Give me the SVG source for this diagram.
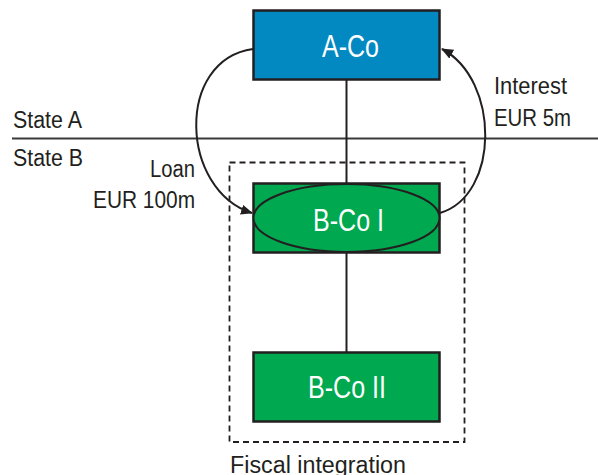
<svg xmlns="http://www.w3.org/2000/svg" width="598" height="475" viewBox="0 0 598 475">
<style>
.lbl{font-family:"Liberation Sans Narrow","Liberation Sans",Arial,sans-serif;fill:#231f20;font-size:23px}
.wt{font-family:"Liberation Sans Narrow","Liberation Sans",Arial,sans-serif;fill:#ffffff;font-size:31px}
.box{stroke:#231f20;stroke-width:2.5}
.conn{fill:none;stroke:#231f20;stroke-width:2}
</style>
<defs>
<marker id="ah" viewBox="0 0 12 10" refX="11" refY="5" markerWidth="12" markerHeight="10" markerUnits="userSpaceOnUse" orient="auto">
<path d="M0,0 L12,5 L0,10 Z" fill="#231f20"/>
</marker>
</defs>
<g id="state-line">
<line x1="12" y1="138.5" x2="598" y2="138.5" stroke="#3a3a3a" stroke-width="1.8"/>
<text class="lbl" x="13" y="127.5" textLength="69" lengthAdjust="spacingAndGlyphs">State A</text>
<text class="lbl" x="13" y="165.5" textLength="70" lengthAdjust="spacingAndGlyphs">State B</text>
</g>
<g id="fiscal-integration">
<rect x="229.5" y="162.5" width="235" height="279.5" fill="none" stroke="#231f20" stroke-width="1.8" stroke-dasharray="6,4"/>
<text class="lbl" x="230" y="472.5" font-size="24" textLength="176" lengthAdjust="spacingAndGlyphs">Fiscal integration</text>
</g>
<g id="connectors">
<line class="conn" x1="346.5" y1="80" x2="346.5" y2="183"/>
<line class="conn" x1="346.5" y1="253" x2="346.5" y2="352"/>
<path class="conn" d="M253,49 C175,60 180,190 252,213" marker-end="url(#ah)"/>
<path class="conn" d="M440,213 C500,195 500,80 442,49" marker-end="url(#ah)"/>
<text class="lbl" x="195" y="176.5" text-anchor="end" textLength="45" lengthAdjust="spacingAndGlyphs">Loan</text>
<text class="lbl" x="195" y="207.5" text-anchor="end" textLength="102" lengthAdjust="spacingAndGlyphs">EUR 100m</text>
<text class="lbl" x="494" y="94" textLength="73" lengthAdjust="spacingAndGlyphs">Interest</text>
<text class="lbl" x="494" y="126" textLength="77" lengthAdjust="spacingAndGlyphs">EUR 5m</text>
</g>
<g id="A-Co">
<rect class="box" x="253.5" y="10.5" width="186" height="69" fill="#0389c2"/>
<text class="wt" x="322" y="57" font-size="31" textLength="57" lengthAdjust="spacingAndGlyphs">A-Co</text>
</g>
<g id="B-Co-I">
<rect class="box" x="253.5" y="183.5" width="186" height="69" fill="#00a84f"/>
<ellipse cx="346.5" cy="218" rx="93" ry="34" fill="#00a84f" stroke="#231f20" stroke-width="2"/>
<text class="wt" x="313" y="231" textLength="71" lengthAdjust="spacingAndGlyphs">B-Co I</text>
</g>
<g id="B-Co-II">
<rect class="box" x="253.5" y="352.5" width="186" height="69" fill="#00a84f"/>
<text class="wt" x="308" y="398" textLength="78" lengthAdjust="spacingAndGlyphs">B-Co II</text>
</g>
</svg>
